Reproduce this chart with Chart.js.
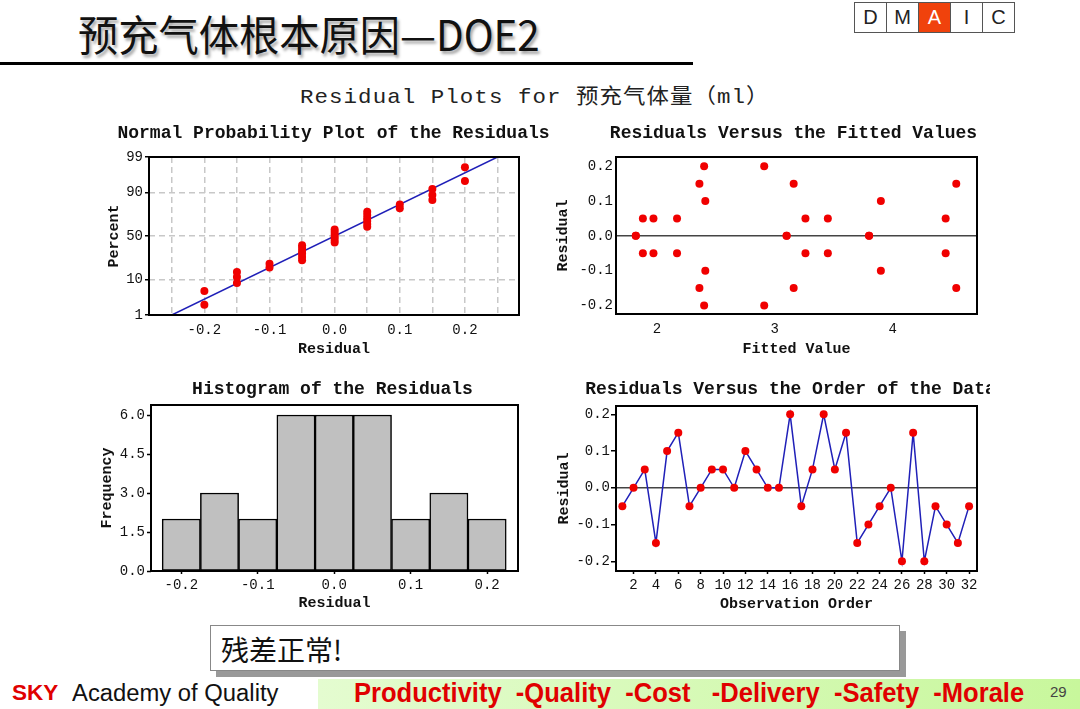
<!DOCTYPE html>
<html><head><meta charset="utf-8">
<script src="https://cdn.jsdelivr.net/npm/chart.js@4.4.1/dist/chart.umd.min.js"></script>
<style>
html,body{margin:0;padding:0;background:#fff;}
body{width:1080px;height:709px;position:relative;overflow:hidden;font-family:'Liberation Sans',sans-serif;}
.abs{position:absolute;}
.fit{white-space:nowrap;transform-origin:0 50%;display:inline-block;}
#title{left:78px;top:7px;font-family:'Noto Sans CJK SC';font-size:42px;line-height:52px;font-weight:400;color:#111;text-shadow:2px 3px 3px rgba(0,0,0,0.35);}
#rule{left:0;top:62px;width:693px;height:3px;background:#000;}
#dmaic{left:855px;top:2px;display:flex;}
#dmaic div{width:31px;height:29px;border:1px solid #555;margin-left:-1px;text-align:center;line-height:29px;font-size:20px;font-family:'Liberation Sans';color:#222;background:#fff;}
#dmaic div.on{background:#f0420c;color:#fff;}
#sub{left:300px;top:85px;font-family:'Liberation Mono','Noto Sans CJK SC';font-size:21px;line-height:26px;letter-spacing:1px;color:#222;}
.box{position:absolute;}
#note{left:210px;top:625px;width:690px;height:46px;border:1px solid #888;background:#fff;box-shadow:6px 6px 0 #999;font-family:'Noto Sans CJK SC';font-size:28px;line-height:46px;color:#111;padding-left:10px;box-sizing:border-box;}
#band{left:318px;top:679px;width:762px;height:30px;background:linear-gradient(to right,#e4fcd0,#c8f79c);}
#sky{left:12px;top:680px;font-size:22px;line-height:26px;font-weight:bold;color:#e00000;}
#acad{left:72px;top:680px;font-size:23px;line-height:26px;color:#111;}
#slogan{left:354px;top:678px;font-size:27px;line-height:30px;font-weight:bold;color:#e00000;white-space:pre;}
#page{left:1050px;top:683px;font-size:15px;line-height:18px;color:#444;}
</style></head>
<body>
<div id="title" class="abs fit">预充气体根本原因—DOE2</div>
<div id="rule" class="abs"></div>
<div id="dmaic" class="abs"><div>D</div><div>M</div><div class="on">A</div><div>I</div><div>C</div></div>
<div id="sub" class="abs fit">Residual Plots for 预充气体量（ml）</div>

<div class="box" style="left:106px;top:119px;width:455px;height:238px;"><canvas id="c1"></canvas></div>
<div class="box" style="left:555px;top:119px;width:477px;height:238px;"><canvas id="c2"></canvas></div>
<div class="box" style="left:99px;top:375px;width:467px;height:236px;"><canvas id="c3"></canvas></div>
<div class="box" style="left:556px;top:375px;width:434px;height:237px;overflow:hidden;"><div style="position:relative;width:469px;height:237px;"><canvas id="c4"></canvas></div></div>

<div id="note" class="abs">残差正常!</div>
<div id="band" class="abs"></div>
<div id="sky" class="abs fit">SKY</div>
<div id="acad" class="abs fit">Academy of Quality</div>
<div id="slogan" class="abs fit">Productivity  -Quality  -Cost   -Delivery  -Safety  -Morale</div>
<div id="page" class="abs">29</div>

<script>
// ---------------- DATA ----------------
const residualsByOrder = [-0.05,0,0.05,-0.15,0.1,0.15,-0.05,0,0.05,0.05,0,0.1,0.05,0,0,0.2,-0.05,0.05,0.2,0.05,0.15,-0.15,-0.1,-0.05,0,-0.2,0.15,-0.2,-0.05,-0.1,-0.15,-0.05];
const fittedByOrder = [1.88,1.82,1.88,2.36,2.41,2.36,1.97,1.82,1.97,2.17,3.10,3.90,3.26,3.10,3.80,2.40,2.17,3.45,2.91,4.45,3.16,3.16,2.41,3.26,3.80,2.40,4.54,2.91,3.45,3.90,4.54,4.45];

const normSortedResiduals = [-0.2,-0.2,-0.15,-0.15,-0.15,-0.1,-0.1,-0.05,-0.05,-0.05,-0.05,-0.05,-0.05,0,0,0,0,0,0,0.05,0.05,0.05,0.05,0.05,0.05,0.1,0.1,0.15,0.15,0.15,0.2,0.2];
const normPercents = [2.16,5.25,8.33,11.42,14.51,17.59,20.68,23.77,26.85,29.94,33.02,36.11,39.20,42.28,45.37,48.46,51.54,54.63,57.72,60.80,63.89,66.98,70.06,73.15,76.23,79.32,82.41,85.49,88.58,91.67,94.75,97.84];
const normFitResidual = [-0.25,0.25];
const normFitPercent = [1,99];

const histBinCenters = [-0.2,-0.15,-0.1,-0.05,0,0.05,0.1,0.15,0.2];
const histCounts = [2,3,2,6,6,6,2,3,2];

// tick values and labels
const normXTicks = [-0.25,-0.2,-0.15,-0.1,-0.05,0,0.05,0.1,0.15,0.2,0.25];
const normXLabels = ['','-0.2','','-0.1','','0.0','','0.1','','0.2',''];
const normYTicks = [1,10,50,90,99];
const normYLabels = ['1','10','50','90','99'];
const fitXTicks = [2,3,4];
const fitXLabels = ['2','3','4'];
const residTicks = [-0.2,-0.1,0,0.1,0.2];
const residLabels = ['-0.2','-0.1','0.0','0.1','0.2'];
const histXTicks = [-0.2,-0.1,0,0.1,0.2];
const histXLabels = ['-0.2','-0.1','0.0','0.1','0.2'];
const histYTicks = [0,1.5,3,4.5,6];
const histYLabels = ['0.0','1.5','3.0','4.5','6.0'];
const orderXTicks = [2,4,6,8,10,12,14,16,18,20,22,24,26,28,30,32];
const orderXLabels = ['2','4','6','8','10','12','14','16','18','20','22','24','26','28','30','32'];

const chartTitles = ['Normal Probability Plot of the Residuals','Residuals Versus the Fitted Values','Histogram of the Residuals','Residuals Versus the Order of the Data'];

// ---------------- page text fitting ----------------
function fitTo(id, w){const el=document.getElementById(id);el.style.transform='scaleX('+(w/el.offsetWidth)+')';}
fitTo('title',462); fitTo('sub',470); fitTo('slogan',670); fitTo('acad',206); fitTo('sky',46);

// ---------------- probability scale ----------------
function probit(p){
  const a=[-3.969683028665376e+01,2.209460984245205e+02,-2.759285104469687e+02,1.383577518672690e+02,-3.066479806614716e+01,2.506628277459239e+00];
  const b=[-5.447609879822406e+01,1.615858368580409e+02,-1.556989798598866e+02,6.680131188771972e+01,-1.328068155288572e+01];
  const c=[-7.784894002430293e-03,-3.223964580411365e-01,-2.400758277161838e+00,-2.549732539343734e+00,4.374664141464968e+00,2.938163982698783e+00];
  const d=[7.784695709041462e-03,3.224671290700398e-01,2.445134137142996e+00,3.754408661907416e+00];
  const pl=0.02425,ph=1-pl;let q,r;
  if(p<pl){q=Math.sqrt(-2*Math.log(p));return (((((c[0]*q+c[1])*q+c[2])*q+c[3])*q+c[4])*q+c[5])/((((d[0]*q+d[1])*q+d[2])*q+d[3])*q+1);}
  if(p<=ph){q=p-0.5;r=q*q;return (((((a[0]*r+a[1])*r+a[2])*r+a[3])*r+a[4])*r+a[5])*q/(((((b[0]*r+b[1])*r+b[2])*r+b[3])*r+b[4])*r+1);}
  q=Math.sqrt(-2*Math.log(1-p));return -(((((c[0]*q+c[1])*q+c[2])*q+c[3])*q+c[4])*q+c[5])/((((d[0]*q+d[1])*q+d[2])*q+d[3])*q+1);
}
function normCdf(z){const t=1/(1+0.2316419*Math.abs(z));const y=t*(0.319381530+t*(-0.356563782+t*(1.781477937+t*(-1.821255978+t*1.330274429))));const p=1-Math.exp(-z*z/2)/Math.sqrt(2*Math.PI)*y;return z>=0?p:1-p;}
const BaseLinear = Chart.LinearScale || Chart.registry.getScale('linear');
class ProbabilityScale extends BaseLinear {
  getPixelForValue(v){const z0=probit(this.min/100),z1=probit(this.max/100);return this.getPixelForDecimal((probit(v/100)-z0)/(z1-z0));}
  getValueForPixel(px){const z0=probit(this.min/100),z1=probit(this.max/100);return 100*normCdf(z0+this.getDecimalForPixel(px)*(z1-z0));}
}
ProbabilityScale.id='probability';
ProbabilityScale.defaults={};
Chart.register(ProbabilityScale);

// ---------------- common ----------------
Chart.defaults.font.family="'Liberation Mono', monospace";
Chart.defaults.color='#111';
const RED='#f00000', BLUE='#2020b8';
const framePlugin={id:'frame',afterDraw(chart){const {ctx,chartArea:a}=chart;ctx.save();ctx.strokeStyle='#000';ctx.lineWidth=2;ctx.setLineDash([]);ctx.strokeRect(a.left,a.top,a.right-a.left,a.bottom-a.top);ctx.restore();}};
const tickFont={size:14,lineHeight:1.2};
const axTitleFont={size:15,weight:'bold',lineHeight:'16px'};
function titleOpt(text,pb){return {display:true,text:text,color:'#111',font:{size:18,weight:'bold',lineHeight:'20px'},padding:{top:4,bottom:pb}};}
function setTicks(vals){return s=>{s.ticks=vals.map(v=>({value:v}));};}
function dummyRight(w){return {type:'linear',position:'right',display:true,grid:{display:false},border:{display:false},ticks:{display:false},title:{display:false},afterFit:s=>{s.width=w;}};}
function baseOpts(){return {responsive:true,maintainAspectRatio:false,animation:false,events:[],layout:{padding:0}};}
const zeroLine=ctx=>(ctx.tick&&ctx.tick.value===0)?'#444':'rgba(0,0,0,0)';

// ---------------- Chart 1: normal probability ----------------
new Chart(document.getElementById('c1'),{
  type:'scatter',
  data:{datasets:[
    {data:normSortedResiduals.map((x,i)=>({x:x,y:normPercents[i]})),backgroundColor:RED,borderWidth:0,pointRadius:4,order:0},
    {data:normFitResidual.map((x,i)=>({x:x,y:normFitPercent[i]})),showLine:true,borderColor:BLUE,borderWidth:1.5,pointRadius:0,order:1}
  ]},
  options:Object.assign(baseOpts(),{
    plugins:{legend:{display:false},tooltip:{enabled:false},title:titleOpt(chartTitles[0],14)},
    scales:{
      x:{type:'linear',min:-0.285,max:0.283,afterBuildTicks:setTicks(normXTicks),afterFit:s=>{s.height=42;},
        ticks:{autoSkip:false,maxRotation:0,padding:7,font:tickFont,callback:(v,i)=>normXLabels[i]},
        grid:{color:'#c8c8c8',lineWidth:1.5,drawTicks:false},border:{display:false,dash:[6,4]},
        title:{display:true,text:'Residual',font:axTitleFont,padding:0}},
      y:{type:'probability',min:1,max:99,afterBuildTicks:setTicks(normYTicks),afterFit:s=>{s.width=43;},
        ticks:{autoSkip:false,padding:2,font:tickFont,callback:(v,i)=>normYLabels[i]},
        grid:{color:'#c8c8c8',lineWidth:1.5,drawTicks:true,tickLength:4,tickColor:'#000',tickWidth:1.5,tickBorderDash:[]},border:{display:false,dash:[6,4]},
        title:{display:true,text:'Percent',font:axTitleFont,padding:0}},
      yR:dummyRight(42)
    }
  }),
  plugins:[framePlugin]
});

// ---------------- Chart 2: residuals vs fitted ----------------
new Chart(document.getElementById('c2'),{
  type:'scatter',
  data:{datasets:[{data:fittedByOrder.map((x,i)=>({x:x,y:residualsByOrder[i]})),backgroundColor:RED,borderWidth:0,pointRadius:4}]},
  options:Object.assign(baseOpts(),{
    plugins:{legend:{display:false},tooltip:{enabled:false},title:titleOpt(chartTitles[1],14)},
    scales:{
      x:{type:'linear',min:1.652,max:4.716,afterBuildTicks:setTicks(fitXTicks),afterFit:s=>{s.height=43;},
        ticks:{autoSkip:false,maxRotation:0,padding:7,font:tickFont,callback:(v,i)=>fitXLabels[i]},
        grid:{drawOnChartArea:false,drawTicks:false},border:{display:false},
        title:{display:true,text:'Fitted Value',font:axTitleFont,padding:0}},
      y:{type:'linear',min:-0.2246,max:0.2266,afterBuildTicks:setTicks(residTicks),afterFit:s=>{s.width=61;},
        ticks:{autoSkip:false,padding:3,font:tickFont,callback:(v,i)=>residLabels[i]},
        grid:{color:zeroLine,lineWidth:1.5,drawTicks:false},border:{display:false},
        title:{display:true,text:'Residual',font:axTitleFont,padding:0}},
      yR:dummyRight(55)
    }
  }),
  plugins:[framePlugin]
});

// ---------------- Chart 3: histogram ----------------
new Chart(document.getElementById('c3'),{
  type:'bar',
  data:{datasets:[{data:histBinCenters.map((x,i)=>({x:x,y:histCounts[i]})),backgroundColor:'#c0c0c0',borderColor:'#000',borderWidth:1.5,borderSkipped:false,barPercentage:1,categoryPercentage:1}]},
  options:Object.assign(baseOpts(),{
    plugins:{legend:{display:false},tooltip:{enabled:false},title:titleOpt(chartTitles[2],6)},
    scales:{
      x:{type:'linear',offset:false,min:-0.2396,max:0.2404,afterBuildTicks:setTicks(histXTicks),afterFit:s=>{s.height=40;},
        ticks:{autoSkip:false,maxRotation:0,padding:3,font:tickFont,callback:(v,i)=>histXLabels[i]},
        grid:{offset:false,drawOnChartArea:false,drawTicks:true,tickLength:3,tickColor:'#000',tickWidth:1.5},border:{display:false},
        title:{display:true,text:'Residual',font:axTitleFont,padding:0}},
      y:{type:'linear',min:0,max:6.385,afterBuildTicks:setTicks(histYTicks),afterFit:s=>{s.width=52;},
        ticks:{autoSkip:false,padding:2,font:tickFont,callback:(v,i)=>histYLabels[i]},
        grid:{drawOnChartArea:false,drawTicks:true,tickLength:4,tickColor:'#000',tickWidth:1.5},border:{display:false},
        title:{display:true,text:'Frequency',font:axTitleFont,padding:0}},
      yR:dummyRight(48)
    }
  }),
  plugins:[framePlugin]
});

// ---------------- Chart 4: residuals vs order ----------------
new Chart(document.getElementById('c4'),{
  type:'scatter',
  data:{datasets:[{data:residualsByOrder.map((r,i)=>({x:i+1,y:r})),showLine:true,borderColor:BLUE,borderWidth:1.5,backgroundColor:RED,pointBorderWidth:0,pointRadius:4}]},
  options:Object.assign(baseOpts(),{
    plugins:{legend:{display:false},tooltip:{enabled:false},title:titleOpt(chartTitles[3],7)},
    scales:{
      x:{type:'linear',min:0.43,max:32.71,afterBuildTicks:setTicks(orderXTicks),afterFit:s=>{s.height=41;},
        ticks:{autoSkip:false,maxRotation:0,padding:3,font:tickFont,callback:(v,i)=>orderXLabels[i]},
        grid:{drawOnChartArea:false,drawTicks:true,tickLength:3,tickColor:'#000',tickWidth:1.5},border:{display:false},
        title:{display:true,text:'Observation Order',font:axTitleFont,padding:0}},
      y:{type:'linear',min:-0.2265,max:0.2226,afterBuildTicks:setTicks(residTicks),afterFit:s=>{s.width=60;},
        ticks:{autoSkip:false,padding:1,font:tickFont,callback:(v,i)=>residLabels[i]},
        grid:{color:zeroLine,lineWidth:1.5,drawTicks:true,tickLength:5,tickColor:'#000',tickWidth:1.5},border:{display:false},
        title:{display:true,text:'Residual',font:axTitleFont,padding:0}},
      yR:dummyRight(48)
    }
  }),
  plugins:[framePlugin]
});
</script>
</body></html>
